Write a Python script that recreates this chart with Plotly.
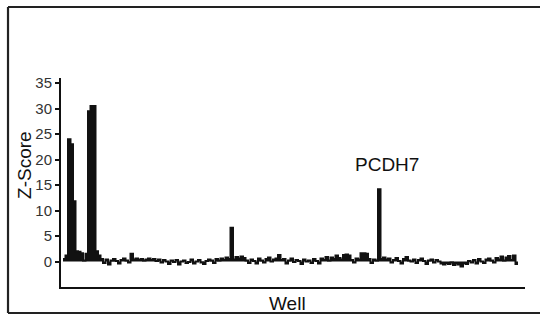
import plotly.graph_objects as go

# Z-score per well
z_scores = [
    0.5, 1.2, 24.0, 23.0, 11.8, 2.0, 1.9, 1.6, 0.2, 1.5,
    29.5, 30.5, 30.5, 2.0, 1.2, 0.5, -0.3, 0.4, -0.6, 0.2,
    0.5, 0.1, -0.4, 0.3, 0.6, 0.2, -0.2, 1.5, 0.4, 0.6,
    0.3, 0.5, 0.2, 0.4, 0.6, 0.3, 0.5, 0.1, 0.4, -0.2,
    0.3, 0.0, -0.5, 0.2, -0.1, 0.3, -0.6, 0.0, 0.2, -0.3,
    -0.1, 0.4, -0.4, 0.0, 0.3, -0.2, -0.5, 0.1, 0.4, 0.2,
    -0.3, 0.5, 0.2, 0.6, 0.3, 0.8, 0.5, 6.6, 0.4, 0.9,
    0.6, 1.0, 0.7, 0.2, -0.3, 0.4, 0.1, -0.4, 0.6, 0.2,
    -0.2, 0.5, 0.8, 0.0, 0.4, 0.6, 1.3, 0.3, 0.5, -0.4,
    0.2, 0.6, -0.1, 0.3, 0.1, -0.5, 0.4, 0.0, 0.2, -0.3,
    0.5, 0.1, -0.4, 0.6, 0.3, 0.9, 0.2, 0.8, 0.5, 1.2,
    0.7, 0.4, 1.3, 1.4, 1.2, 0.3, -0.2, 0.6, 0.4, 1.6,
    1.6, 1.5, 0.5, -0.3, 0.4, 0.2, 14.2, 0.5, 0.8, 0.4,
    0.6, -0.2, 0.3, 0.7, 0.1, -0.4, 0.5, 0.9, 0.2, 0.0,
    0.4, -0.3, 0.3, 0.6, 0.1, -0.5, 0.2, 0.4, -0.2, 0.3,
    0.0, -0.4, -0.6, -0.3, -0.5, -0.2, -0.7, -0.4, -0.6, -1.0,
    -0.3, -0.5, 0.1, -0.2, 0.3, -0.4, 0.5, 0.0, -0.3, 0.4,
    0.6, 0.2, -0.2, 0.7, 0.4, 1.0, 0.2, 0.8, 1.1, 0.3,
    1.2, -0.5,
]
well_index = list(range(len(z_scores)))
y_ticks = [0, 5, 10, 15, 20, 25, 30, 35]
hit_label = "PCDH7"
hit_well = 126

# step outline: each well spans [i, i+1]
step_x = well_index + [len(z_scores)]
step_y = z_scores + [z_scores[-1]]

fig = go.Figure()
fig.add_trace(go.Scatter(
    x=step_x, y=step_y, mode="lines",
    line=dict(color="#111111", width=2, shape="hv"),
    fill="tozeroy", fillcolor="#111111",
    hoverinfo="skip", showlegend=False,
))

FONT = "Liberation Sans, Arial, sans-serif"

fig.add_annotation(
    x=hit_well + 3.5, y=z_scores[hit_well] + 2.4, text=hit_label,
    showarrow=False, xanchor="center", yanchor="bottom",
    font=dict(family=FONT, size=19, color="#111111"),
)
# axis titles
fig.add_annotation(
    xref="paper", yref="paper", x=-0.0776, y=0.584, text="Z-Score",
    textangle=-90, showarrow=False, xanchor="center", yanchor="middle",
    font=dict(family=FONT, size=19, color="#111111"),
)
fig.add_annotation(
    xref="paper", yref="paper", x=0.489, y=-0.0766, text="Well",
    showarrow=False, xanchor="center", yanchor="middle",
    font=dict(family=FONT, size=19, color="#111111"),
)

# outer frame (open on the right, as in the original)
frame = dict(color="#222222", width=2.2)
fx0, fx1, fy0, fy1 = -0.1142, 1.05, -0.1244, 1.3397
fig.add_shape(type="line", xref="paper", yref="paper", x0=fx0, x1=fx1, y0=fy1, y1=fy1, line=frame)
fig.add_shape(type="line", xref="paper", yref="paper", x0=fx0, x1=fx1, y0=fy0, y1=fy0, line=frame)
fig.add_shape(type="line", xref="paper", yref="paper", x0=fx0, x1=fx0, y0=fy0, y1=fy1, line=frame)

fig.update_layout(
    width=540, height=321,
    margin=dict(l=61, r=15, t=78, b=34, pad=0, autoexpand=False),
    paper_bgcolor="white", plot_bgcolor="white",
    font=dict(family=FONT, color="#222222"),
    xaxis=dict(
        range=[-0.8, 184.8], showgrid=False, zeroline=False, automargin=False,
        showline=True, linecolor="#111111", linewidth=2,
        showticklabels=False, ticks="",
    ),
    yaxis=dict(
        range=[-5, 36], showgrid=False, zeroline=False, automargin=False,
        showline=True, linecolor="#111111", linewidth=2,
        tickvals=y_ticks, ticks="outside", ticklen=4, tickwidth=1.5, tickcolor="#111111",
        tickfont=dict(size=15, family=FONT, color="#333333"),
    ),
)

fig.write_html(
    "out.html",
    config={"displayModeBar": False},
    post_script="document.body.style.margin='0';document.body.style.overflow='hidden';",
)
